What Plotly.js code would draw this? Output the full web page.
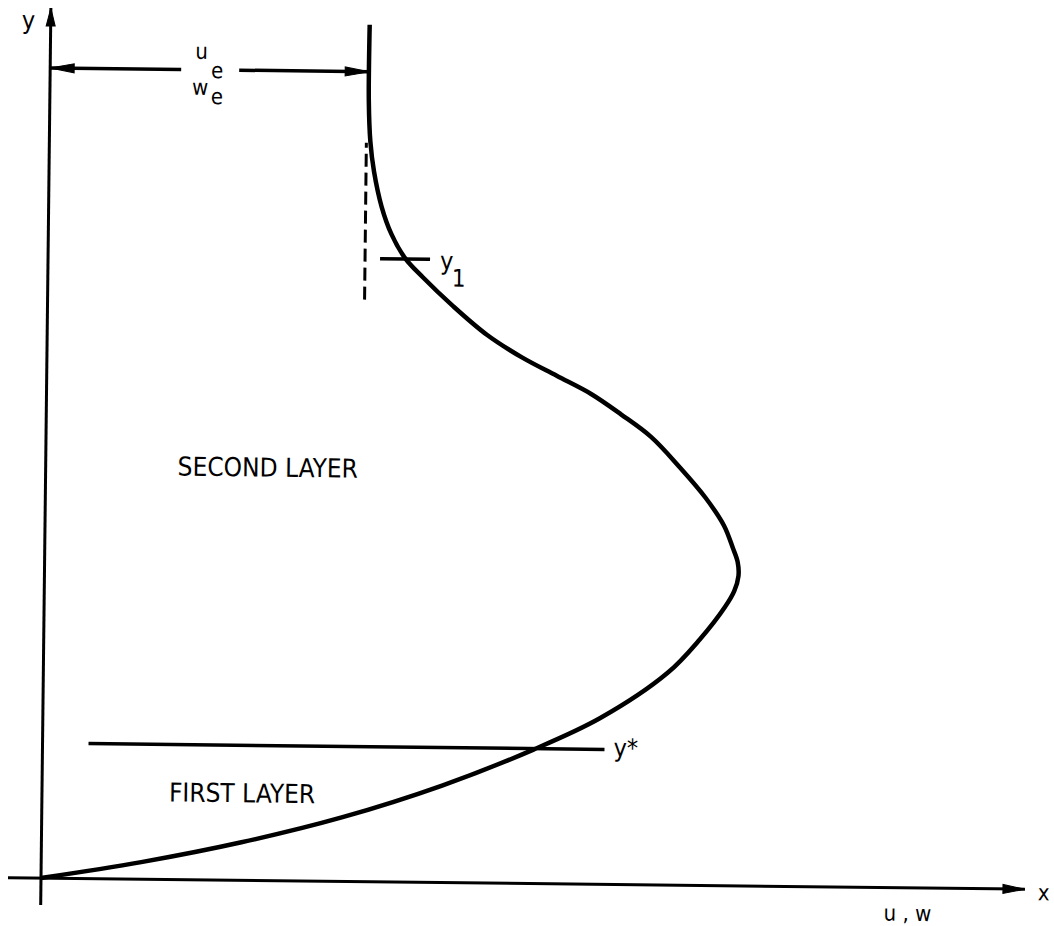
<!DOCTYPE html>
<html>
<head>
<meta charset="utf-8">
<script src="https://cdn.plot.ly/plotly-3.0.1.min.js"></script>
<style>
html,body{margin:0;padding:0;background:#fff;overflow:hidden;}
#chart{width:1054px;height:926px;transform:rotate(0.65deg);transform-origin:41px 878px;}
</style>
</head>
<body>
<div id="chart"></div>
<script>
// Schematic velocity profile u (or w) against height y (arbitrary units)
const profileU = [0, 100, 200, 300, 400, 491, 557, 624, 656, 681, 690, 694, 693, 688, 679, 660, 634, 605, 575, 545, 510, 475, 440, 405, 375, 357, 343, 333, 325, 321, 319, 319];
const profileY = [0, 17, 38, 64, 97, 134, 166, 212, 246, 279, 295, 310, 324, 338, 360, 388, 418, 448, 470, 490, 508, 526, 548, 577, 605, 624, 648, 675, 710, 740, 780, 857];

// Reference levels
const uEdge = 319;                 // edge velocity u_e, w_e
const yStar = 135;                 // y*  (top of first layer)
const yStarSpan = [46, 562];
const y1Level = 623;               // y_1
const y1Span = [332, 382];
const dashU = 317;                 // dashed asymptote u = u_e
const dashSpan = [582, 739];
const edgeArrowY = 810;
const edgeArrowGap = [131, 189];   // gap left for the u_e / w_e label

// Axes extents
const xAxisSpan = [-33, 984];
const yAxisSpan = [-27, 870];

const FONT = 'DejaVu Sans Condensed, Liberation Sans Narrow, DejaVu Sans, sans-serif';

function seg(xs, ys, w, dash) {
  return {x: xs, y: ys, type: 'scatter', mode: 'lines', hoverinfo: 'skip', showlegend: false,
          line: {color: '#000', width: w, dash: dash || 'solid'}};
}
// arrow head polygon with tip at (tx,ty); direction (dx,dy) unit vector
function head(tx, ty, dx, dy, len, hw) {
  const bx = tx - dx * len, by = ty - dy * len;
  const px = -dy, py = dx;
  return {x: [tx, bx + px * hw, bx - px * hw, tx], y: [ty, by + py * hw, by - py * hw, ty],
          type: 'scatter', mode: 'lines', fill: 'toself', fillcolor: '#000',
          line: {color: '#000', width: 1}, hoverinfo: 'skip', showlegend: false};
}

const traces = [
  // axes
  seg(xAxisSpan, [0, 0], 3),
  seg([0, 0], yAxisSpan, 3),
  head(xAxisSpan[1], 0, 1, 0, 22, 4.5),
  head(0, yAxisSpan[1], 0, 1, 18, 4.5),
  // edge-velocity dimension arrow
  seg([0, edgeArrowGap[0]], [edgeArrowY, edgeArrowY], 3.5),
  seg([edgeArrowGap[1], uEdge], [edgeArrowY, edgeArrowY], 3.5),
  head(0, edgeArrowY, -1, 0, 24, 4.5),
  head(uEdge, edgeArrowY, 1, 0, 24, 4.5),
  // reference levels
  seg(yStarSpan, [yStar, yStar], 3.5),
  seg(y1Span, [y1Level, y1Level], 3.5),
  seg([dashU, dashU], dashSpan, 3, '13px,6px'),
  // profile
  {x: profileU, y: profileY, type: 'scatter', mode: 'lines', hoverinfo: 'skip', showlegend: false,
   line: {color: '#000', width: 4.5, shape: 'spline', smoothing: 1}}
];

function label(txt, x, y, xa, size) {
  return {x: x, y: y, xref: 'x', yref: 'y', text: txt, showarrow: false,
          xanchor: xa || 'center', yanchor: 'middle', borderpad: 0,
          font: {family: FONT, size: size, color: '#000'}};
}

const annotations = [
  label('y', -23, 858, 'center', 25),
  label('x', 1003, -3, 'center', 22),
  label('u , w', 867, -25, 'center', 22),
  label('u', 151, 829, 'center', 22),
  label('e', 167, 810, 'center', 22),
  label('w', 150, 793, 'center', 22),
  label('e', 167, 784, 'center', 22),
  label('y', 398, 622, 'center', 25),
  label('1', 411, 604, 'center', 24),
  label('y*', 570, 137, 'left', 25),
  label('SECOND LAYER', 131, 413, 'left', 26),
  label('FIRST LAYER', 126, 87, 'left', 26)
];

const layout = {
  width: 1054, height: 926,
  margin: {l: 0, r: 0, t: 0, b: 0},
  paper_bgcolor: 'rgba(0,0,0,0)', plot_bgcolor: 'rgba(0,0,0,0)',
  xaxis: {range: [-41, 1013], visible: false, fixedrange: true},
  yaxis: {range: [-48, 878], visible: false, fixedrange: true},
  annotations: annotations, showlegend: false
};

Plotly.newPlot('chart', traces, layout, {staticPlot: true});
</script>
</body>
</html>
